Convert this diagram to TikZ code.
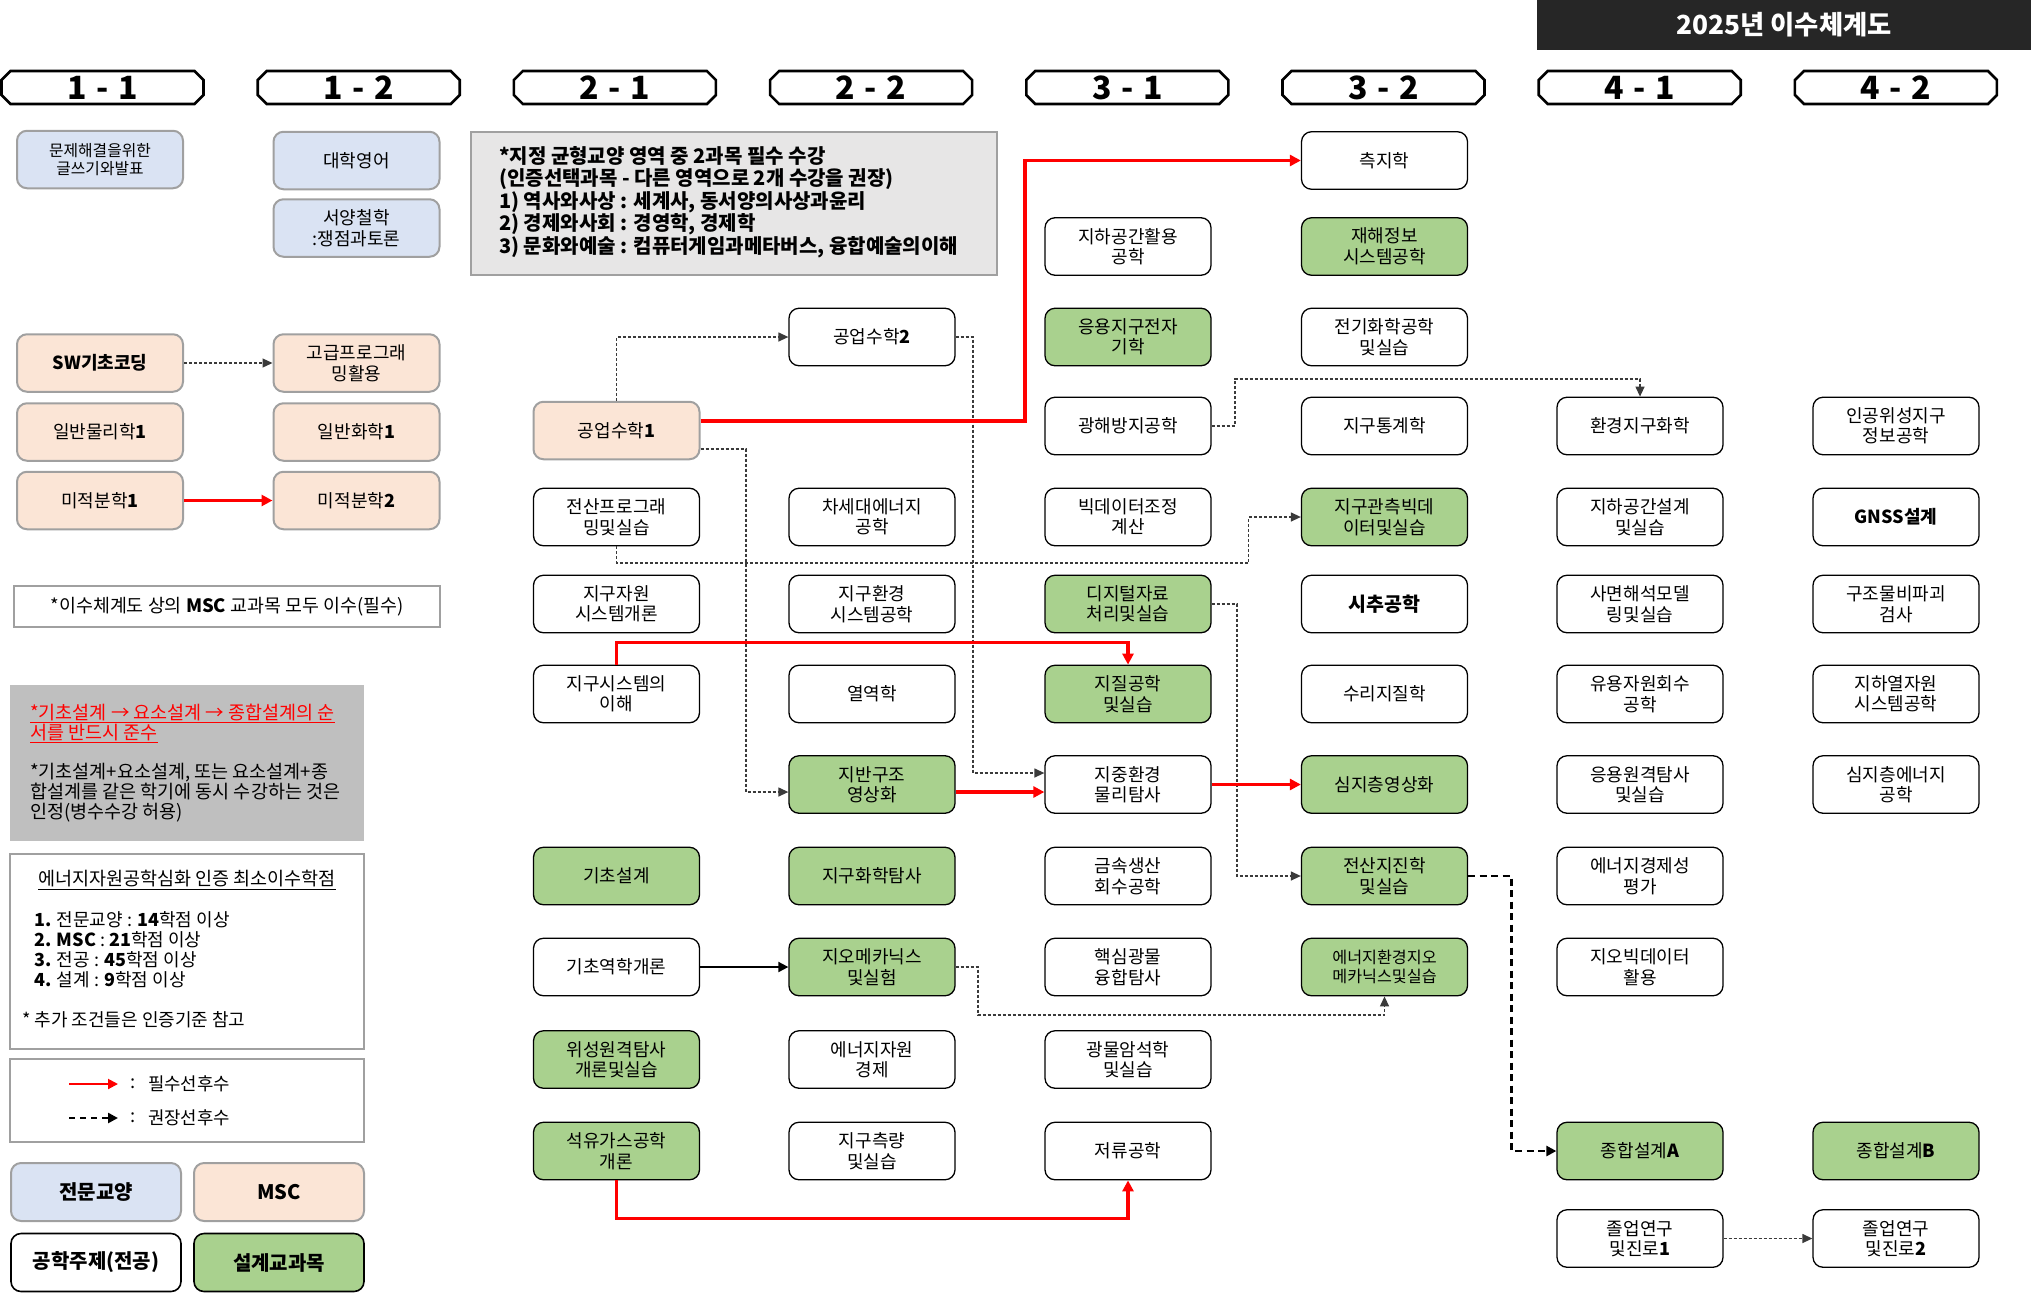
\documentclass[tikz,border=0pt]{standalone}
\usepackage{fontspec}
\setmainfont{Noto Sans CJK KR}
\usetikzlibrary{arrows.meta,calc}
\definecolor{genblue}{HTML}{DAE3F3}
\definecolor{mscpeach}{HTML}{FBE5D6}
\definecolor{desgreen}{HTML}{A9D18E}
\definecolor{bordgray}{HTML}{A0A0A0}
\definecolor{panelgray}{HTML}{BFBFBF}
\definecolor{notegray}{HTML}{E7E6E6}
\definecolor{titlebg}{HTML}{262626}
\definecolor{dashgray}{HTML}{3A3A3A}
\begin{document}
\begin{tikzpicture}[x=1pt,y=-1pt,
  cbox/.style={rounded corners=10pt, minimum width=166pt, minimum height=57.5pt, align=center, inner sep=0pt, font=\fontsize{18}{20.5}\selectfont},
  gen/.style={cbox, fill=genblue, draw=bordgray, line width=2pt},
  msc/.style={cbox, fill=mscpeach, draw=bordgray, line width=2pt},
  maj/.style={cbox, fill=white, draw=black, line width=1.3pt},
  des/.style={cbox, fill=desgreen, draw=black, line width=1.3pt},
  hdrline/.style={draw=black, line width=2.6pt, line join=miter},
  hdrtext/.style={font=\bfseries\fontsize{32}{34}\selectfont, inner sep=0pt},
  req/.style={draw=red, line width=3.3pt, -{Triangle[length=11pt,width=11pt]}},
  rec/.style={draw=dashgray, line width=1.3pt, dash pattern=on 3pt off 2pt, -{Triangle[length=10pt,width=9pt]}},
  recb/.style={draw=black, line width=2.6pt, dash pattern=on 7pt off 4.5pt, -{Triangle[length=10pt,width=10pt]}},
  solidarr/.style={draw=black, line width=2pt, -{Triangle[length=10pt,width=10pt]}},
  txt/.style={inner sep=0pt, font=\fontsize{18.5}{20}\selectfont},
  panel/.style={draw=bordgray, line width=2.5pt, inner sep=0pt},
  legbox/.style={minimum width=170pt, minimum height=58pt, font=\bfseries\fontsize{20}{22}\selectfont}
]
\useasboundingbox (0,0) rectangle (2031,1293);

% title bar
\node[fill=titlebg, minimum width=494pt, minimum height=50pt, inner sep=0pt, text=white,
  font=\bfseries\fontsize{26.3}{28}\selectfont] (title) at (1784,25) {2025년 이수체계도};

% semester headers
\foreach \i/\a/\b in {0/1/1,1/1/2,2/2/1,3/2/2,4/3/1,5/3/2,6/4/1,7/4/2} {
  \pgfmathsetmacro{\xa}{1.5+256.2*\i}
  \pgfmathsetmacro{\xb}{\xa+202}
  \draw[hdrline] (\xa+9,71) -- (\xb-9,71) -- (\xb,80) -- (\xb,95) -- (\xb-9,104) -- (\xa+9,104) -- (\xa,95) -- (\xa,80) -- cycle;
  \node[hdrtext] (h\i) at (\xa+101,88) {\a\hspace{0.3em}-\hspace{0.3em}\b};
}

% note box (top)
\node[fill=notegray, panel, minimum width=526pt, minimum height=143pt] (note) at (734,203.5) {};
\node[anchor=west, align=left, inner sep=0pt, font=\bfseries\fontsize{20}{22.5}\selectfont] (notet) at (499,202)
 {*지정 균형교양 영역 중 2과목 필수 수강\\(인증선택과목 - 다른 영역으로 2개 수강을 권장)\\1) 역사와사상 : 세계사, 동서양의사상과윤리\\2) 경제와사회 : 경영학, 경제학\\3) 문화와예술 : 컴퓨터게임과메타버스, 융합예술의이해};

% general education
\node[gen, font=\fontsize{15.8}{18}\selectfont] (g1) at (100,159.5) {문제해결을위한\\글쓰기와발표};
\node[gen] (g2) at (356.5,160.5) {대학영어};
\node[gen] (g3) at (356.5,228) {서양철학\\:쟁점과토론};

% MSC
\node[msc] (sw) at (100,363) {\textbf{SW기초코딩}};
\node[msc] (gp) at (356.5,363) {고급프로그래\\밍활용};
\node[msc] (ph) at (100,432) {일반물리학\textbf{1}};
\node[msc] (ch) at (356.5,432) {일반화학\textbf{1}};
\node[msc] (ca1) at (100,500.5) {미적분학\textbf{1}};
\node[msc] (ca2) at (356.5,500.5) {미적분학\textbf{2}};
\node[msc] (gm1) at (616.5,430.5) {공업수학\textbf{1}};

% column 2-1
\node[maj] (jp) at (616.5,517) {전산프로그래\\밍및실습};
\node[maj] (jr1) at (616.5,604) {지구자원\\시스템개론};
\node[maj] (js) at (616.5,694) {지구시스템의\\이해};
\node[des] (gs) at (616.5,876) {기초설계};
\node[maj] (gy) at (616.5,967) {기초역학개론};
\node[des] (ws) at (616.5,1059.5) {위성원격탐사\\개론및실습};
\node[des] (sy) at (616.5,1151) {석유가스공학\\개론};

% column 2-2
\node[maj] (gm2) at (872,337) {공업수학\textbf{2}};
\node[maj] (cs) at (872,517) {차세대에너지\\공학};
\node[maj] (jh) at (872,604) {지구환경\\시스템공학};
\node[maj] (yy) at (872,694) {열역학};
\node[des] (jb) at (872,784.5) {지반구조\\영상화};
\node[des] (jht) at (872,876) {지구화학탐사};
\node[des] (gmk) at (872,967) {지오메카닉스\\및실험};
\node[maj] (ee) at (872,1059.5) {에너지자원\\경제};
\node[maj] (jc) at (872,1151) {지구측량\\및실습};

% column 3-1
\node[maj] (jgh) at (1128,246.5) {지하공간활용\\공학};
\node[des] (ej) at (1128,337) {응용지구전자\\기학};
\node[maj] (gh) at (1128,426) {광해방지공학};
\node[maj] (bd) at (1128,517) {빅데이터조정\\계산};
\node[des] (dj) at (1128,604) {디지털자료\\처리및실습};
\node[des] (jgl) at (1128,694) {지질공학\\및실습};
\node[maj] (jg) at (1128,784.5) {지중환경\\물리탐사};
\node[maj] (gsn) at (1128,876) {금속생산\\회수공학};
\node[maj] (hs) at (1128,967) {핵심광물\\융합탐사};
\node[maj] (ga) at (1128,1059.5) {광물암석학\\및실습};
\node[maj] (jre) at (1128,1151) {저류공학};

% column 3-2
\node[maj] (cj) at (1384.5,160.5) {측지학};
\node[des] (jhi) at (1384.5,246.5) {재해정보\\시스템공학};
\node[maj] (eg) at (1384.5,337) {전기화학공학\\및실습};
\node[maj] (jt) at (1384.5,426) {지구통계학};
\node[des] (jgb) at (1384.5,517) {지구관측빅데\\이터및실습};
\node[maj, font=\bfseries\fontsize{19.5}{22}\selectfont] (sc) at (1384.5,604) {시추공학};
\node[maj] (sj) at (1384.5,694) {수리지질학};
\node[des] (sjy) at (1384.5,784.5) {심지층영상화};
\node[des] (jj) at (1384.5,876) {전산지진학\\및실습};
\node[des, font=\fontsize{16.2}{18.5}\selectfont] (eeg) at (1384.5,967) {에너지환경지오\\메카닉스및실습};

% column 4-1
\node[maj] (hg) at (1640,426) {환경지구화학};
\node[maj] (jgs) at (1640,517) {지하공간설계\\및실습};
\node[maj] (sm) at (1640,604) {사면해석모델\\링및실습};
\node[maj] (yj) at (1640,694) {유용자원회수\\공학};
\node[maj] (ew) at (1640,784.5) {응용원격탐사\\및실습};
\node[maj] (eg2) at (1640,876) {에너지경제성\\평가};
\node[maj] (gb) at (1640,967) {지오빅데이터\\활용};
\node[des] (za) at (1640,1151) {종합설계\textbf{A}};
\node[maj] (gr1) at (1640,1238.5) {졸업연구\\및진로\textbf{1}};

% column 4-2
\node[maj] (ig) at (1896,426) {인공위성지구\\정보공학};
\node[maj] (gn) at (1896,517) {\textbf{GNSS설계}};
\node[maj] (gu) at (1896,604) {구조물비파괴\\검사};
\node[maj] (jy) at (1896,694) {지하열자원\\시스템공학};
\node[maj] (sje) at (1896,784.5) {심지층에너지\\공학};
\node[des] (zb) at (1896,1151) {종합설계\textbf{B}};
\node[maj] (gr2) at (1896,1238.5) {졸업연구\\및진로\textbf{2}};

% connectors: recommended (dashed)
\draw[rec] (sw) -- (gp);
\draw[rec] (gm1.north) |- (gm2.west);
\draw[rec] (gm2.east) -| (973,773) -- ([yshift=11.5pt]jg.west);
\draw[rec] ([yshift=-18.5pt]gm1.east) -| (746,792) -- ([yshift=-7.5pt]jb.west);
\draw[rec] (jp.south) |- (1248.5,563) |- (jgb.west);
\draw[rec] (gh.east) -| (1235,379) -| (hg.north);
\draw[rec] (dj.east) -| (1237,876) -- (jj.west);
\draw[rec] (gmk.east) -| (978,1015) -| (eeg.south);
\draw[rec] (gr1) -- (gr2);
\draw[recb] (jj.east) -| (1511.5,1151) -- (za.west);

% connectors: required (red)
\draw[req] (ca1) -- (ca2);
\draw[req] ([yshift=9.5pt]gm1.east) -| (1025,160.5) -- (cj.west);
\draw[req] (js.north) -- ++(0,-22) -| (jgl.north);
\draw[req] ([yshift=-7.5pt]jb.east) -- ([yshift=-7.5pt]jg.west);
\draw[req] (jg) -- (sjy);
\draw[req] (sy.south) -- ++(0,38) -| (jre.south);
\draw[solidarr] (gy) -- (gmk);

% MSC note
\node[panel, minimum width=426pt, minimum height=41pt, font=\fontsize{18.4}{20}\selectfont] (mscnote) at (227,606.5)
  {*이수체계도 상의 \textbf{MSC} 교과목 모두 이수(필수)};

% design panel
\node[fill=panelgray, minimum width=354pt, minimum height=156pt, inner sep=0pt] (dpanel) at (187,763) {};
\node[txt, anchor=west, align=left, text=red] (dred) at (30,723)
  {\underline{*기초설계 → 요소설계 → 종합설계의 순}\\\underline{서를 반드시 준수}};
\node[txt, anchor=west, align=left] (dblk) at (30,793)
  {*기초설계+요소설계, 또는 요소설계+종\\합설계를 같은 학기에 동시 수강하는 것은\\인정(병수수강 허용)};

% credits panel
\node[panel, minimum width=354pt, minimum height=195pt] (cred) at (187,951.5) {};
\node[txt] (credt) at (187,880) {\underline{에너지자원공학심화 인증 최소이수학점}};
\node[txt, anchor=west, align=left, font=\fontsize{18}{20}\selectfont] (credl) at (34,950)
  {\textbf{1.} 전문교양 : \textbf{14}학점 이상\\\textbf{2. MSC} : \textbf{21}학점 이상\\\textbf{3.} 전공 : \textbf{45}학점 이상\\\textbf{4.} 설계 : \textbf{9}학점 이상};
\node[txt, anchor=west, font=\fontsize{18}{20}\selectfont] (credn) at (22,1020) {* 추가 조건들은 인증기준 참고};

% arrow legend
\node[panel, minimum width=354pt, minimum height=83pt] (arrleg) at (187,1100.5) {};
\coordinate (la1) at (69,1084);
\coordinate (la2) at (118,1084);
\coordinate (lb1) at (69,1118);
\coordinate (lb2) at (118,1118);
\draw[draw=red, line width=2pt, -{Triangle[length=10pt,width=10pt]}] (la1) -- (la2);
\draw[draw=black, line width=2.6pt, dash pattern=on 6pt off 5pt, -{Triangle[length=10pt,width=10pt]}] (lb1) -- (lb2);
\node[txt] (lc1) at (133,1084) {:};
\node[txt, anchor=west, font=\fontsize{17.8}{20}\selectfont] (lt1) at (148,1084) {필수선후수};
\node[txt] (lc2) at (133,1118) {:};
\node[txt, anchor=west, font=\fontsize{17.8}{20}\selectfont] (lt2) at (148,1118) {권장선후수};

% colour legend
\node[gen, legbox] (lg1) at (96,1192) {전문교양};
\node[msc, legbox] (lg2) at (279,1192) {MSC};
\node[maj, legbox, line width=1.6pt] (lg3) at (96,1262.5) {공학주제(전공)};
\node[des, legbox, line width=1.6pt] (lg4) at (279,1262.5) {설계교과목};
\end{tikzpicture}
\end{document}
